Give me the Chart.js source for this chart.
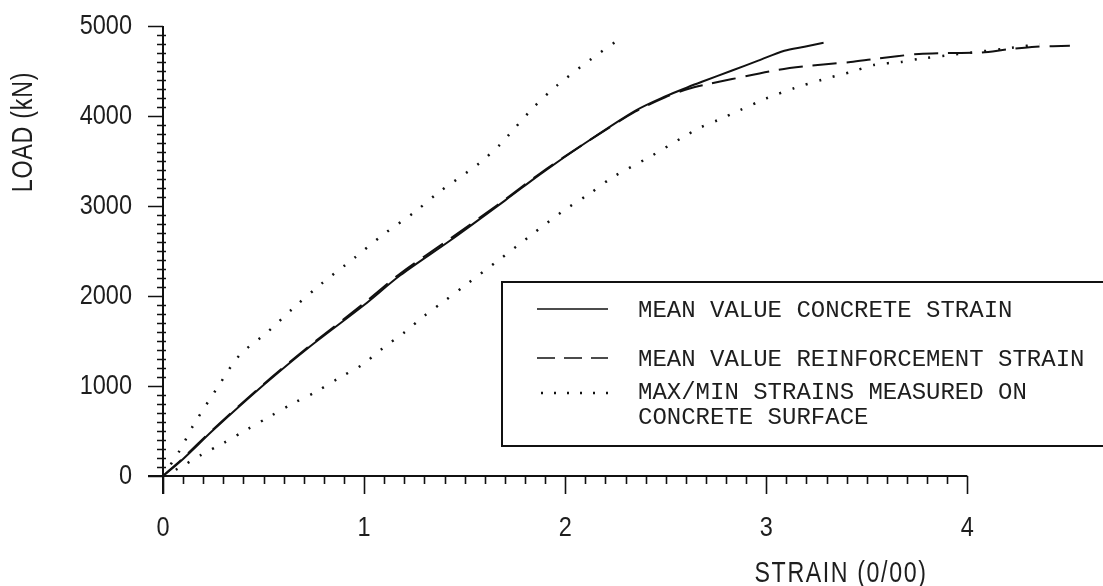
<!DOCTYPE html>
<html><head><meta charset="utf-8">
<script src="https://cdn.jsdelivr.net/npm/chart.js@4.4.1/dist/chart.umd.min.js"></script>
<style>html,body{margin:0;padding:0;background:#fff;}#wrap{width:1103px;height:586px;}</style>
</head><body><div id="wrap"><canvas id="c" width="1103" height="586"></canvas></div>
<script>
// ---- data ----
const concreteStrain = [0, 0.1, 0.25, 0.5, 0.72, 1.0, 1.18, 1.43, 1.7, 1.88, 2.1, 2.35, 2.5, 2.61, 2.68, 2.83, 2.96, 3.09, 3.19, 3.285];
const concreteLoad   = [0, 190, 510, 1010, 1420, 1900, 2230, 2620, 3060, 3360, 3700, 4060, 4220, 4320, 4380, 4505, 4615, 4725, 4770, 4815];

const reinfStrain = [0, 0.1, 0.25, 0.5, 0.72, 1.0, 1.18, 1.43, 1.7, 1.88, 2.1, 2.35, 2.5, 2.61, 2.7, 2.83, 3.05, 3.2, 3.42, 3.54, 3.76, 3.9, 4.07, 4.2, 4.34, 4.51];
const reinfLoad   = [0, 200, 520, 1020, 1430, 1920, 2250, 2640, 3070, 3370, 3700, 4050, 4210, 4300, 4350, 4410, 4510, 4555, 4600, 4635, 4690, 4700, 4705, 4740, 4770, 4780];

const maxStrain = [0, 0.085, 0.15, 0.27, 0.38, 0.52, 0.65, 0.79, 0.95, 1.1, 1.25, 1.37, 1.57, 1.68, 1.72, 1.84, 1.96, 2.14, 2.28];
const maxLoad   = [0, 290, 560, 980, 1340, 1600, 1870, 2140, 2420, 2690, 2930, 3150, 3470, 3690, 3790, 4090, 4340, 4650, 4870];

const minStrain = [0, 0.085, 0.19, 0.3, 0.42, 0.53, 0.65, 0.76, 0.88, 0.99, 1.09, 1.2, 1.3, 1.4, 1.51, 1.67, 1.83, 1.99, 2.12, 2.24, 2.42, 2.59, 2.67, 2.76, 2.87, 3.0, 3.14, 3.28, 3.43, 3.54, 3.67, 3.76, 4.23, 4.36];
const minLoad   = [0, 95, 235, 365, 520, 660, 810, 935, 1095, 1235, 1415, 1595, 1780, 1945, 2130, 2400, 2675, 2945, 3135, 3325, 3545, 3770, 3870, 3955, 4065, 4195, 4310, 4405, 4495, 4570, 4600, 4635, 4760, 4800];

const xMajorTicks = [0, 1, 2, 3, 4];
const yMajorTicks = [0, 1000, 2000, 3000, 4000, 5000];
const xTickLabels = ['0', '1', '2', '3', '4'];
const yTickLabels = ['0', '1000', '2000', '3000', '4000', '5000'];
const xMinorStep = 0.1;
const yMinorStep = 100;
const xTitle = 'STRAIN (0/00)';
const yTitle = 'LOAD (kN)';
const legendLabels = [
  ['MEAN VALUE CONCRETE STRAIN'],
  ['MEAN VALUE REINFORCEMENT STRAIN'],
  ['MAX/MIN STRAINS MEASURED ON', 'CONCRETE SURFACE']
];

const pts = (xs, ys) => xs.map((v, i) => ({x: v, y: ys[i]}));
const INK = '#111';
const TXT = '#1e1e1e';
const NARROW = 0.84;

function narrowText(ctx, text, x, y, align, sx) {
  ctx.save();
  ctx.translate(x, y);
  ctx.scale(sx, 1);
  ctx.textAlign = align;
  ctx.fillText(text, 0, 0);
  ctx.restore();
}

const axesPlugin = {
  id: 'axesPlugin',
  beforeDatasetsDraw(chart) {
    const {ctx, scales: {x, y}} = chart;
    const x0 = x.getPixelForValue(0), y0 = y.getPixelForValue(0);
    const xEnd = xMajorTicks[xMajorTicks.length - 1];
    const yEnd = yMajorTicks[yMajorTicks.length - 1];
    ctx.save();
    ctx.strokeStyle = INK;
    ctx.lineWidth = 2;
    ctx.beginPath();
    ctx.moveTo(x0 - 15, y0); ctx.lineTo(x.getPixelForValue(xEnd), y0);
    ctx.moveTo(x0, y.getPixelForValue(yEnd)); ctx.lineTo(x0, y0 + 18);
    ctx.stroke();
    ctx.lineWidth = 1.6;
    ctx.beginPath();
    const nx = Math.round(xEnd / xMinorStep);
    for (let i = 0; i <= nx; i++) {
      const px = Math.round(x.getPixelForValue(i * xMinorStep)) + 0.5;
      const major = i % 10 === 0;
      ctx.moveTo(px, y0); ctx.lineTo(px, y0 + (major ? 18 : 8));
    }
    const ny = Math.round(yEnd / yMinorStep);
    for (let j = 0; j <= ny; j++) {
      const py = Math.round(y.getPixelForValue(j * yMinorStep)) + 0.5;
      const major = j % 10 === 0;
      ctx.moveTo(x0 + (major ? 0 : 3), py); ctx.lineTo(x0 - (major ? 15 : 6), py);
    }
    ctx.stroke();

    // tick labels, placed by the scales
    ctx.fillStyle = TXT;
    ctx.font = '28px "Liberation Sans", sans-serif';
    ctx.textBaseline = 'middle';
    xMajorTicks.forEach((v, i) => narrowText(ctx, xTickLabels[i], x.getPixelForValue(v), y0 + 52, 'center', NARROW));
    yMajorTicks.forEach((v, i) => narrowText(ctx, yTickLabels[i], x0 - 31, y.getPixelForValue(v), 'right', NARROW));

    // axis titles
    ctx.font = '29px "Liberation Sans", sans-serif';
    ctx.save();
    ctx.translate(24, 132);
    ctx.rotate(-Math.PI / 2);
    ctx.letterSpacing = '1px';
    narrowText(ctx, yTitle, 0, 0, 'center', 0.8);
    ctx.restore();
    ctx.save();
    ctx.letterSpacing = '2px';
    narrowText(ctx, xTitle, 841, 574, 'center', 0.8);
    ctx.restore();
    ctx.restore();
  },
  afterDraw(chart) {
    const {ctx} = chart;
    ctx.save();
    ctx.strokeStyle = INK;
    ctx.lineWidth = 2;
    ctx.strokeRect(502, 282, 700, 164);
    const rows = [309, 358, 393];
    const dashes = [[], [18, 9], [2, 11]];
    chart.data.datasets.slice(0, 3).forEach((ds, k) => {
      ctx.beginPath();
      ctx.setLineDash(dashes[k]);
      ctx.lineWidth = k === 2 ? 2.5 : 1.6;
      ctx.moveTo(k === 2 ? 541 : 537, rows[k]);
      ctx.lineTo(608, rows[k]);
      ctx.stroke();
    });
    ctx.setLineDash([]);
    ctx.fillStyle = TXT;
    ctx.font = '24px "Liberation Mono", monospace';
    ctx.textBaseline = 'middle';
    ctx.textAlign = 'left';
    const textY = [[311], [360], [393], [418]];
    const ys = [[311], [360], [393, 418]];
    legendLabels.forEach((lines, k) => lines.forEach((t, m) => ctx.fillText(t, 638, ys[k][m])));
    ctx.restore();
  }
};

new Chart(document.getElementById('c'), {
  type: 'line',
  data: {
    datasets: [
      {label: legendLabels[0].join(' '), data: pts(concreteStrain, concreteLoad), borderColor: INK, borderWidth: 2, pointRadius: 0, tension: 0.3},
      {label: legendLabels[1].join(' '), data: pts(reinfStrain, reinfLoad), borderColor: INK, borderWidth: 2, borderDash: [24, 10], pointRadius: 0, tension: 0.3},
      {label: legendLabels[2].join(' '), data: pts(maxStrain, maxLoad), borderColor: INK, borderWidth: 2.5, borderDash: [2, 12], pointRadius: 0, tension: 0.3},
      {label: legendLabels[2].join(' ') + ' (min)', data: pts(minStrain, minLoad), borderColor: INK, borderWidth: 2.5, borderDash: [2, 12], pointRadius: 0, tension: 0.3}
    ]
  },
  options: {
    responsive: false,
    animation: false,
    devicePixelRatio: 1,
    layout: {padding: {top: 26, right: 15, left: 0, bottom: 0}},
    plugins: {legend: {display: false}, tooltip: {enabled: false}},
    scales: {
      x: {
        type: 'linear', min: 0, max: 4.6,
        afterFit: s => { s.height = 110; },
        afterBuildTicks: s => { s.ticks = xMajorTicks.map(v => ({value: v})); },
        ticks: {display: false},
        grid: {display: false}, border: {display: false}
      },
      y: {
        type: 'linear', min: 0, max: 5000,
        afterFit: s => { s.width = 163; },
        afterBuildTicks: s => { s.ticks = yMajorTicks.map(v => ({value: v})); },
        ticks: {display: false},
        grid: {display: false}, border: {display: false}
      }
    }
  },
  plugins: [axesPlugin]
});
</script>
</body></html>
